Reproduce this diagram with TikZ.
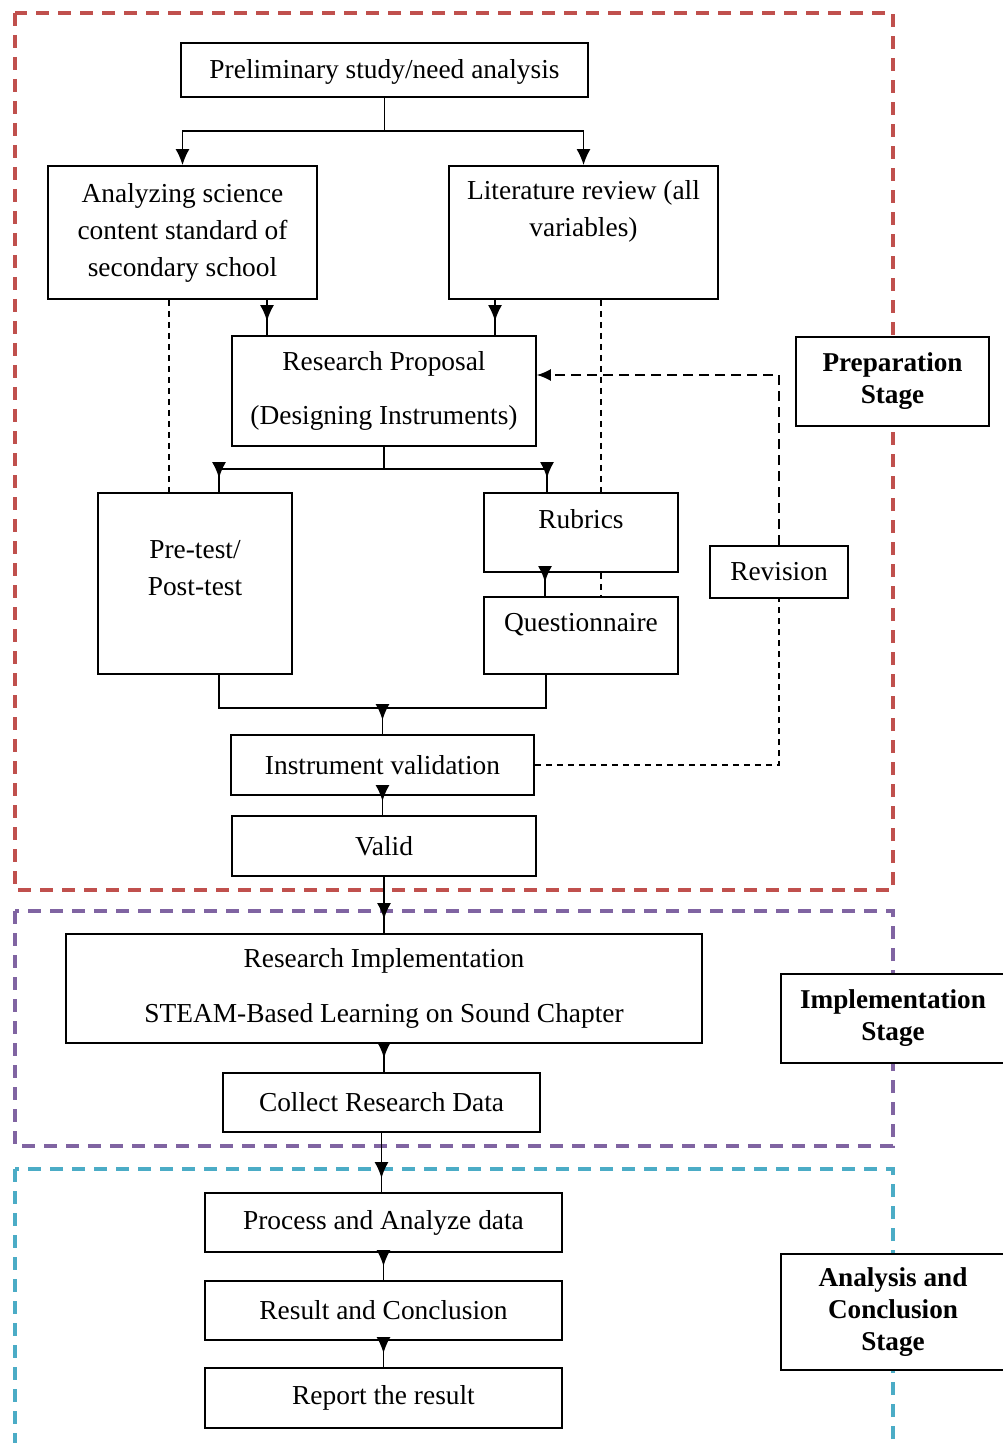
\documentclass[tikz,border=0pt]{standalone}
\usepackage{fontspec}
\setmainfont{Liberation Serif}
\usetikzlibrary{arrows.meta}
\usetikzlibrary{decorations.markings}

\definecolor{prepred}{RGB}{192,80,77}
\definecolor{implpurple}{RGB}{128,100,162}
\definecolor{anacyan}{RGB}{75,172,198}

\tikzset{
    box/.style={draw, line width=0.9pt, fill=white, align=center, inner sep=0pt},
    stagebox/.style={box, font=\bfseries\fontsize{13.6pt}{16pt}\selectfont},
    lift/.style={text depth=#1},
    link/.style={line width=0.8pt},
    tip/.style={link, -{Latex[length=8pt, width=7pt]}},
    conn/.style={link, postaction={decorate},
        decoration={markings, mark=at position -7pt with {\arrow{Latex[length=8pt, width=7pt]}}}},
    frame/.style={line width=1.6pt, dash pattern=on 6.5pt off 4.5pt},
    dotline/.style={line width=0.6pt, dash pattern=on 3pt off 2.5pt},
    dashloop/.style={line width=0.7pt, dash pattern=on 5pt off 3pt}
}

\begin{document}
\begin{tikzpicture}[x=0.5pt, y=-0.5pt, font=\fontsize{13.7pt}{18.5pt}\selectfont]
    \useasboundingbox (0,0) rectangle (1002,1443);

    % stage frames
    \draw[frame, prepred](15, 13) rectangle (893, 890);
    \draw[frame, implpurple](15, 911) rectangle (893, 1146);
    \draw[frame, anacyan](15, 1169) rectangle (893, 1470);

    % preparation stage
    \node[box, minimum width=203.5pt, minimum height=27pt, text height=11pt] (prelim) at (384.5, 70) {Preliminary study/need analysis};
    \node[box, minimum width=134.5pt, minimum height=66.5pt] (analyzing) at (182.5, 232.5) {Analyzing science\\content standard of\\secondary school};
    \node[box, minimum width=134.5pt, minimum height=66.5pt, lift=24pt] (literature) at (583.5, 232.5) {Literature review (all\\variables)};
    \node[box, minimum width=152pt, minimum height=55pt] (proposal) at (384, 391) {Research Proposal\\[8.5pt](Designing Instruments)};
    \node[box, minimum width=97pt, minimum height=90.5pt, lift=16pt] (pretest) at (195, 583.5) {Pre-test/\\Post-test};
    \node[box, minimum width=97pt, minimum height=39.5pt, lift=13.5pt] (rubrics) at (581, 532.5) {Rubrics};
    \node[box, minimum width=97pt, minimum height=38.5pt, lift=13pt] (questionnaire) at (581, 635.5) {Questionnaire};
    \node[box, minimum width=69pt, minimum height=26pt] (revision) at (779, 572) {Revision};
    \node[stagebox, minimum width=96.5pt, minimum height=44.5pt] (prepstage) at (892.5, 381.5) {Preparation\\Stage};
    \node[box, minimum width=151.5pt, minimum height=30pt] (validation) at (382.5, 765) {Instrument validation};
    \node[box, minimum width=152pt, minimum height=30pt] (valid) at (384, 846) {Valid};

    % implementation stage
    \node[box, minimum width=318pt, minimum height=54.5pt] (impl) at (384, 988.5) {Research Implementation\\[9pt]STEAM-Based Learning on Sound Chapter};
    \node[box, minimum width=158.5pt, minimum height=29.5pt] (collect) at (381.5, 1102.5) {Collect Research Data};
    \node[stagebox, minimum width=112pt, minimum height=44.5pt] (implstage) at (893, 1018.5) {Implementation\\Stage};

    % analysis and conclusion stage
    \node[box, minimum width=178.5pt, minimum height=29.5pt] (process) at (383.5, 1222.5) {Process and Analyze data};
    \node[box, minimum width=178.5pt, minimum height=29.5pt] (result) at (383.5, 1310.5) {Result and Conclusion};
    \node[box, minimum width=178.5pt, minimum height=30pt] (report) at (383.5, 1398) {Report the result};
    \node[stagebox, minimum width=112pt, minimum height=58pt] (anastage) at (893, 1312) {Analysis and\\Conclusion\\Stage};

    % first split
    \draw[link](prelim.south) -- ++(0, 33) coordinate (split1);
    \draw[tip](split1) -| (analyzing.north);
    \draw[tip](split1) -| (literature.north);

    % into the proposal
    \coordinate (a1) at ([xshift=42.25pt]analyzing.south);
    \coordinate (l1) at ([xshift=-44.25pt]literature.south);
    \draw[conn](a1) -- (a1 |- proposal.north);
    \draw[conn](l1) -- (l1 |- proposal.north);

    % dashed links to the instruments
    \coordinate (a2) at ([xshift=-6.75pt]analyzing.south);
    \coordinate (l2) at ([xshift=8.75pt]literature.south);
    \coordinate (r3) at ([xshift=10pt]rubrics.south);
    \draw[dotline](a2) -- (a2 |- pretest.north);
    \draw[dotline](l2) -- (l2 |- rubrics.north);
    \draw[dotline](r3) -- (r3 |- questionnaire.north);

    % second split
    \draw[link](proposal.south) -- ++(0, 22) coordinate (split2);
    \coordinate (p1) at ([xshift=12pt]pretest.north);
    \coordinate (r1) at ([xshift=-17pt]rubrics.north);
    \draw[conn](split2) -| (p1);
    \draw[conn](split2) -| (r1);
    \coordinate (r2) at ([xshift=-18pt]rubrics.south);
    \draw[conn](r2) -- (r2 |- questionnaire.north);

    % join into validation
    \coordinate (p2) at ([xshift=12pt]pretest.south);
    \coordinate (q2) at ([xshift=-17.5pt]questionnaire.south);
    \draw[link](p2) -- ++(0, 33) coordinate (j0) -| (q2);
    \coordinate (join) at (j0 -| validation.north);
    \draw[conn](join) -- (validation.north);

    % revision loop
    \draw[dotline](validation.east) -| (revision.south);
    \draw[dashloop, -{Latex[length=7pt, width=6pt]}](revision.north) |- ([yshift=8pt]proposal.east);

    % main column
    \draw[conn](validation.south) -- (validation.south |- valid.north);
    \draw[conn](valid.south) -- (valid.south |- impl.north);
    \draw[conn](impl.south) -- (impl.south |- collect.north);
    \draw[conn](collect.south) -- (collect.south |- process.north);
    \draw[conn](process.south) -- (result.north);
    \draw[conn](result.south) -- (report.north);
\end{tikzpicture}
\end{document}
